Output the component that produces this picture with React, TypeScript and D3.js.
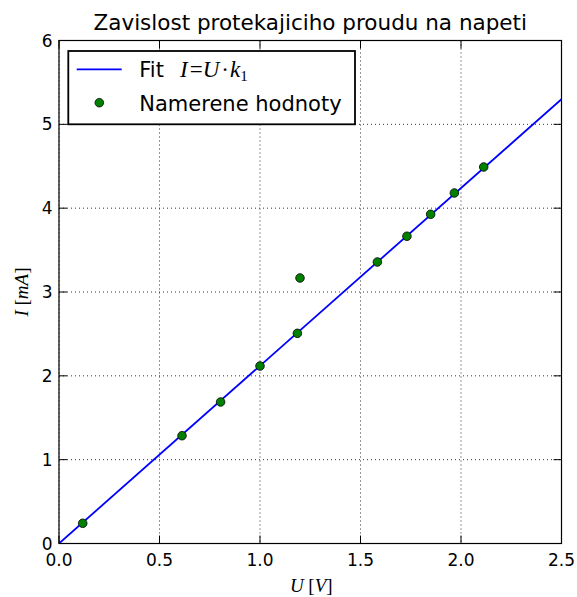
import React from "react";
import * as d3 from "d3";

const voltages = [0.118, 0.612, 0.804, 1.0, 1.186, 1.199, 1.584, 1.731, 1.849, 1.967, 2.113];
const currents = [0.241, 1.286, 1.688, 2.117, 2.507, 3.167, 3.358, 3.665, 3.927, 4.181, 4.491];
const fitSlope = 2.12;
const xTicks = [0, 0.5, 1.0, 1.5, 2.0, 2.5];
const yTicks = [0, 1, 2, 3, 4, 5, 6];
const titleText = "Zavislost protekajiciho proudu na napeti";

const W = 577;
const H = 597;
const L = 59, R = 561.5, T = 40.5, B = 543.5;

export default function App() {
  const x = d3.scaleLinear().domain([0, 2.5]).range([L, R]);
  const y = d3.scaleLinear().domain([0, 6]).range([B, T]);
  const fitLine = d3.line<number>().x((u) => x(u)).y((u) => y(u * fitSlope));
  const sans = "'DejaVu Sans', sans-serif";
  const serif = "'Liberation Serif', 'DejaVu Serif', serif";
  const tick = 8;
  return (
    <svg width={W} height={H} style={{ position: "absolute", left: 0, top: 0, background: "#fff" }}>
      <rect x={0} y={0} width={W} height={H} fill="#fff" />
      <defs>
        <clipPath id="plot">
          <rect x={L} y={T} width={R - L} height={B - T} />
        </clipPath>
      </defs>
      {/* grid */}
      {xTicks.map((t) => (
        <line key={"gx" + t} x1={x(t)} x2={x(t)} y1={T} y2={B} stroke="#000" strokeWidth={1} strokeDasharray="1,3" opacity={0.8} />
      ))}
      {yTicks.map((t) => (
        <line key={"gy" + t} x1={L} x2={R} y1={y(t)} y2={y(t)} stroke="#000" strokeWidth={1} strokeDasharray="1,3" opacity={0.8} />
      ))}
      {/* fit line */}
      <g clipPath="url(#plot)">
        <path d={fitLine([0, 2.5]) || ""} stroke="#0000ff" strokeWidth={1.8} fill="none" />
      </g>
      {/* points */}
      {voltages.map((u, i) => (
        <circle key={"p" + i} cx={x(u)} cy={y(currents[i])} r={4.3} fill="#008000" stroke="#000" strokeWidth={0.8} />
      ))}
      {/* ticks */}
      {xTicks.map((t) => (
        <g key={"tx" + t}>
          <line x1={x(t)} x2={x(t)} y1={B} y2={B - tick} stroke="#000" strokeWidth={1} />
          <line x1={x(t)} x2={x(t)} y1={T} y2={T + tick} stroke="#000" strokeWidth={1} />
          <text x={x(t)} y={566} fontFamily={sans} fontSize={17} textAnchor="middle" fill="#000">
            {t.toFixed(1)}
          </text>
        </g>
      ))}
      {yTicks.map((t) => (
        <g key={"ty" + t}>
          <line x1={L} x2={L + tick} y1={y(t)} y2={y(t)} stroke="#000" strokeWidth={1} />
          <line x1={R} x2={R - tick} y1={y(t)} y2={y(t)} stroke="#000" strokeWidth={1} />
          <text x={52.5} y={y(t)} dy="0.36em" fontFamily={sans} fontSize={17} textAnchor="end" fill="#000">
            {t}
          </text>
        </g>
      ))}
      {/* spines */}
      <rect x={L} y={T} width={R - L} height={B - T} fill="none" stroke="#000" strokeWidth={1.2} />
      {/* title */}
      <text x={(L + R) / 2} y={29.5} fontFamily={sans} fontSize={21.5} textAnchor="middle" fill="#000">
        {titleText}
      </text>
      {/* axis labels */}
      <text x={(L + R) / 2 + 1} y={592} fontFamily={serif} fontSize={19} textAnchor="middle" fill="#000">
        <tspan fontStyle="italic">U</tspan>
        <tspan> [</tspan>
        <tspan fontStyle="italic">V</tspan>
        <tspan>]</tspan>
      </text>
      <text transform={`translate(28,${(T + B) / 2}) rotate(-90)`} fontFamily={serif} fontSize={19} textAnchor="middle" fill="#000">
        <tspan fontStyle="italic">I</tspan>
        <tspan> [</tspan>
        <tspan fontStyle="italic">mA</tspan>
        <tspan>]</tspan>
      </text>
      {/* legend */}
      <g>
        <rect x={68.3} y={51} width={286.7} height={73.3} fill="#fff" stroke="#000" strokeWidth={1.8} />
        <line x1={76.7} x2={121.7} y1={69.3} y2={69.3} stroke="#0000ff" strokeWidth={1.8} />
        <text x={139.3} y={76.7} fontFamily={sans} fontSize={21} fill="#000">
          Fit
        </text>
        <text x={180} y={76.7} fontFamily={serif} fontSize={23} fill="#000">
          <tspan fontStyle="italic">I</tspan>
          <tspan dx={2}>=</tspan>
          <tspan fontStyle="italic">U</tspan>
          <tspan dx={2}>·</tspan>
          <tspan fontStyle="italic" dx={1}>k</tspan>
          <tspan fontSize={15} dy={4}>1</tspan>
        </text>
        <circle cx={99.3} cy={102.7} r={4.3} fill="#008000" stroke="#000" strokeWidth={0.8} />
        <text x={139.3} y={111} fontFamily={sans} fontSize={21} fill="#000">
          Namerene hodnoty
        </text>
      </g>
    </svg>
  );
}
